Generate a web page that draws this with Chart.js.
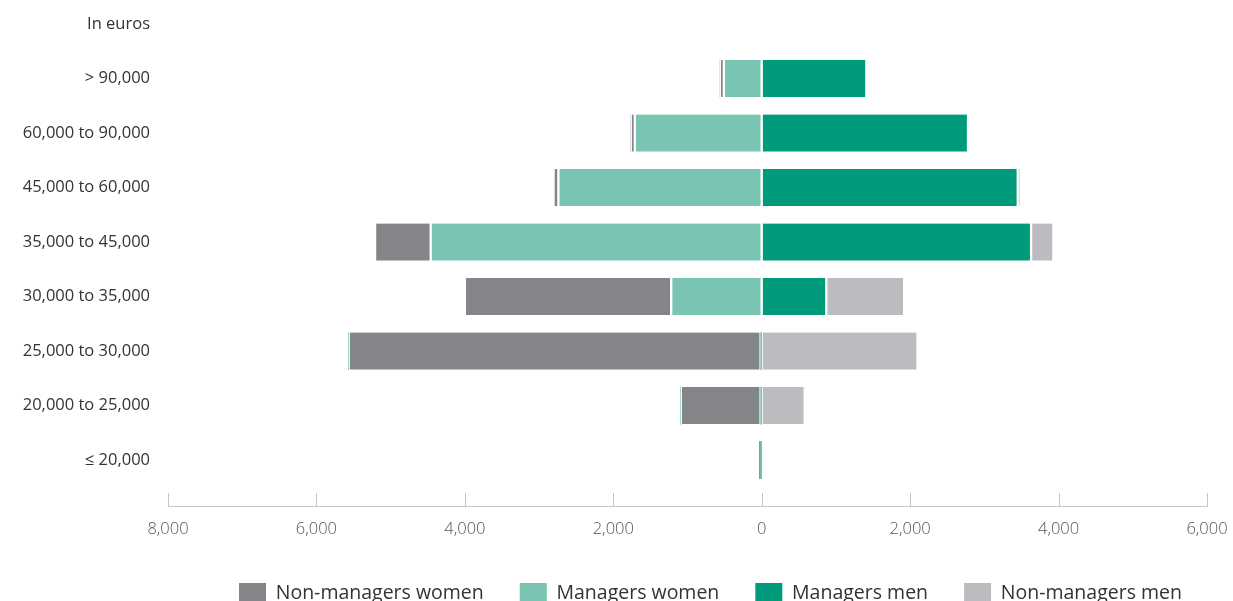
<!DOCTYPE html>
<html lang="en">
<head>
    <meta charset="UTF-8">
    <title>Salary bands by gender</title>
    <script src="https://cdn.jsdelivr.net/npm/chart.js"></script>
    <style>
        html, body {
            margin: 0;
            background: #fff;
            overflow: hidden;
        }
        #wrap {
            width: 1233px;
            height: 613px;
        }
    </style>
</head>
<body>
    <div id="wrap"><canvas id="pyramid"></canvas></div>

    <script>
        // salary bands, top to bottom
        const unitLabel = "In euros";
        const bands = ["> 90,000", "60,000 to 90,000", "45,000 to 60,000", "35,000 to 45,000",
                       "30,000 to 35,000", "25,000 to 30,000", "20,000 to 25,000", "\u2264 20,000"];

        // headcounts
        const managersWomen    = [510, 1710, 2740, 4460, 1220, 15, 15, 15];
        const nonManagersWomen = [55, 55, 65, 750, 2780, 5550, 1075, 10];
        const managersMen      = [1410, 2780, 3450, 3630, 870, 0, 0, 0];
        const nonManagersMen   = [0, 0, 40, 300, 1050, 2100, 580, 0];

        const xTicks = [-8000, -6000, -4000, -2000, 0, 2000, 4000, 6000];

        const legendOrder = ["Non-managers women", "Managers women", "Managers men", "Non-managers men"];

        function pts(arr, sign) {
            return arr.map((v, i) => ({ x: sign * v, y: i }));
        }

        // tick marks point up from the axis line
        const upTicks = {
            id: 'upTicks',
            afterDraw(chart) {
                const sx = chart.scales.x;
                const ctx = chart.ctx;
                ctx.save();
                ctx.strokeStyle = '#c4c4c4';
                ctx.lineWidth = 1;
                sx.ticks.forEach(t => {
                    const px = Math.round(sx.getPixelForValue(t.value)) + 0.5;
                    ctx.beginPath();
                    ctx.moveTo(px, sx.top);
                    ctx.lineTo(px, sx.top - 13);
                    ctx.stroke();
                });
                ctx.restore();
            }
        };

        // legend starts at x=239 in the original, not centred
        const legendStart = 239;
        const nudgeLegend = {
            id: 'nudgeLegend',
            beforeDraw(chart) {
                const lg = chart.legend;
                const pad = lg.options.labels.padding;
                const cur = (lg.left + pad + lg.right - lg.lineWidths[0]) / 2;
                const shift = legendStart - cur;
                lg.left += shift;
                lg.right += shift;
            }
        };

        const segBorder = ctx => {
            const v = ctx.raw ? Math.abs(ctx.raw.x) : 0;
            return v < 30 ? 0 : { left: 1.5, right: 1.5, top: 0, bottom: 0 };
        };

        const ctx = document.getElementById('pyramid').getContext('2d');
        new Chart(ctx, {
            type: 'bar',
            data: {
                datasets: [
                    { label: "Managers women", data: pts(managersWomen, -1), backgroundColor: "#79c4b2" },
                    { label: "Non-managers women", data: pts(nonManagersWomen, -1), backgroundColor: "#848589" },
                    { label: "Managers men", data: pts(managersMen, 1), backgroundColor: "#009b7a" },
                    { label: "Non-managers men", data: pts(nonManagersMen, 1), backgroundColor: "#bbbcbf" }
                ]
            },
            options: {
                indexAxis: 'y',
                responsive: true,
                maintainAspectRatio: false,
                animation: false,
                datasets: {
                    bar: {
                        barThickness: 37,
                        borderColor: '#ffffff',
                        borderWidth: segBorder,
                        borderSkipped: false
                    }
                },
                layout: {
                    padding: { top: 0, right: 26, left: 0, bottom: 0 }
                },
                scales: {
                    x: {
                        type: 'linear',
                        stacked: true,
                        min: -8000,
                        max: 6000,
                        afterBuildTicks: s => { s.ticks = xTicks.map(v => ({ value: v })); },
                        afterFit: s => { s.paddingLeft = 0; s.paddingRight = 0; s.height += 3; },
                        grid: { display: false },
                        border: { display: true, color: '#c4c4c4', width: 1 },
                        ticks: {
                            padding: 5,
                            color: '#555',
                            font: { family: 'Open Sans', size: 16.5, weight: '300' },
                            callback: v => Math.abs(v).toLocaleString('en-US')
                        }
                    },
                    y: {
                        type: 'linear',
                        stacked: true,
                        reverse: true,
                        offset: false,
                        min: -1.441,
                        max: 7.846,
                        afterFit: s => { s.width = 168; s.paddingTop = 0; s.paddingBottom = 0; },
                        afterBuildTicks: s => {
                            s.ticks = [-1].concat(bands.map((b, i) => i)).map(v => ({ value: v }));
                        },
                        grid: { display: false, offset: false },
                        border: { display: false },
                        ticks: {
                            padding: 10,
                            color: '#333',
                            font: { family: 'Open Sans', size: 16.5 },
                            callback: v => v < 0 ? unitLabel : bands[v]
                        }
                    }
                },
                plugins: {
                    tooltip: { enabled: false },
                    legend: {
                        position: 'bottom',
                        fullSize: true,
                        labels: {
                            boxWidth: 27,
                            boxHeight: 20,
                            padding: 36,
                            color: '#333',
                            font: { family: 'Open Sans', size: 19.5 },
                            sort: (a, b) => legendOrder.indexOf(a.text) - legendOrder.indexOf(b.text),
                            generateLabels: chart => Chart.defaults.plugins.legend.labels.generateLabels(chart)
                                .map(l => Object.assign(l, { lineWidth: 0, strokeStyle: 'rgba(0,0,0,0)' }))
                        }
                    }
                }
            },
            plugins: [upTicks, nudgeLegend]
        });
    </script>
</body>
</html>
